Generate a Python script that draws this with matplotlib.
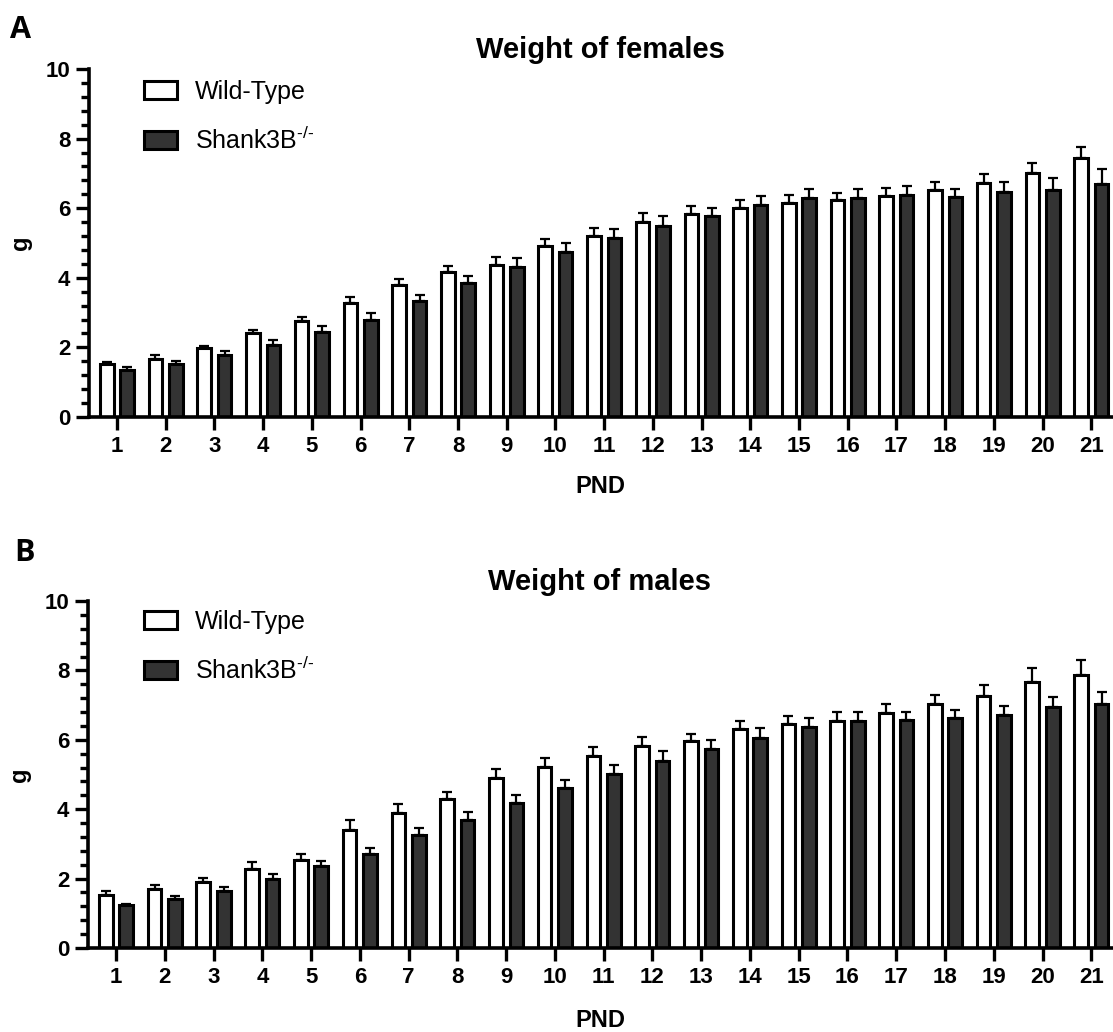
import numpy as np
import matplotlib
matplotlib.use("Agg")
import matplotlib.pyplot as plt
from matplotlib.patches import Patch
from matplotlib.ticker import MultipleLocator

plt.rcParams["font.family"] = ["Liberation Sans", "DejaVu Sans"]
plt.rcParams["mathtext.fontset"] = "custom"
plt.rcParams["mathtext.rm"] = "Liberation Sans"
plt.rcParams["mathtext.default"] = "regular"

PND = list(range(1, 22))

# females (panel A)
FEM_WT = [1.51, 1.68, 1.97, 2.40, 2.75, 3.29, 3.78, 4.17, 4.37, 4.90, 5.21,
          5.59, 5.82, 6.01, 6.15, 6.23, 6.35, 6.51, 6.71, 7.00, 7.43]
FEM_WT_ERR = [0.06, 0.09, 0.08, 0.11, 0.13, 0.16, 0.18, 0.18, 0.24, 0.21, 0.23,
              0.26, 0.24, 0.22, 0.23, 0.22, 0.23, 0.24, 0.27, 0.29, 0.32]
FEM_KO = [1.36, 1.53, 1.79, 2.06, 2.44, 2.80, 3.32, 3.85, 4.30, 4.75, 5.13,
          5.49, 5.77, 6.09, 6.30, 6.29, 6.37, 6.32, 6.46, 6.52, 6.70]
FEM_KO_ERR = [0.07, 0.07, 0.10, 0.14, 0.18, 0.19, 0.19, 0.21, 0.26, 0.26, 0.27,
              0.28, 0.25, 0.26, 0.26, 0.26, 0.27, 0.24, 0.30, 0.36, 0.44]

# males (panel B)
MAL_WT = [1.52, 1.71, 1.90, 2.29, 2.53, 3.41, 3.89, 4.28, 4.90, 5.22, 5.54,
          5.82, 5.97, 6.30, 6.45, 6.54, 6.78, 7.02, 7.25, 7.68, 7.88]
MAL_WT_ERR = [0.11, 0.10, 0.12, 0.19, 0.19, 0.29, 0.25, 0.22, 0.27, 0.26, 0.26,
              0.25, 0.21, 0.23, 0.23, 0.25, 0.26, 0.28, 0.33, 0.40, 0.42]
MAL_KO = [1.23, 1.42, 1.64, 2.00, 2.37, 2.70, 3.25, 3.70, 4.18, 4.60, 5.01,
          5.39, 5.74, 6.04, 6.38, 6.53, 6.57, 6.62, 6.72, 6.95, 7.04]
MAL_KO_ERR = [0.05, 0.07, 0.12, 0.14, 0.14, 0.19, 0.21, 0.22, 0.22, 0.25, 0.26,
              0.28, 0.26, 0.30, 0.25, 0.26, 0.22, 0.23, 0.26, 0.28, 0.34]

LABELS = ["Wild-Type", r"Shank3B$^{\text{-/-}}$"]
DARK = "#333333"


def draw_panel(ax, wt, wt_err, ko, ko_err, title, xlabelpad):
    x = np.array(PND)
    off = 0.21
    w = 0.28
    zeros = np.zeros(len(x))
    ax.bar(x - off, wt, width=w, color="white", edgecolor="black", linewidth=2.2, zorder=2)
    ax.bar(x + off, ko, width=w, color=DARK, edgecolor="black", linewidth=2.2, zorder=2)
    ax.errorbar(x - off, wt, yerr=[zeros, wt_err], fmt="none", ecolor="black",
                elinewidth=1.6, capsize=3.6, capthick=1.6, zorder=1)
    ax.errorbar(x + off, ko, yerr=[zeros, ko_err], fmt="none", ecolor="black",
                elinewidth=1.6, capsize=3.6, capthick=1.6, zorder=1)

    ax.set_xlim(0.425, 21.425)
    ax.set_ylim(0, 10)
    ax.set_xticks(x)
    ax.set_xticklabels([str(v) for v in PND])
    ax.yaxis.set_major_locator(MultipleLocator(2))
    ax.yaxis.set_minor_locator(MultipleLocator(0.4))

    for s in ["top", "right"]:
        ax.spines[s].set_visible(False)
    for s in ["left", "bottom"]:
        ax.spines[s].set_linewidth(2.6)

    ax.tick_params(axis="both", which="major", length=9.5, width=2.4, labelsize=16, pad=4)
    ax.tick_params(axis="y", which="minor", length=5.5, width=2.4)
    for lbl in ax.get_xticklabels() + ax.get_yticklabels():
        lbl.set_fontweight("bold")

    ax.set_xlabel("PND", fontsize=17, fontweight="bold", labelpad=xlabelpad)
    ax.set_ylabel("g", fontsize=17, fontweight="bold", labelpad=10)
    ax.set_title(title, fontsize=21, fontweight="bold", pad=8)


fig = plt.figure(figsize=(11.13, 10.32), dpi=100)
ax1 = fig.add_axes([89 / 1113, (1032 - 417) / 1032, 1023 / 1113, 348 / 1032])
ax2 = fig.add_axes([88 / 1113, (1032 - 948) / 1032, 1024 / 1113, 347 / 1032])

draw_panel(ax1, FEM_WT, FEM_WT_ERR, FEM_KO, FEM_KO_ERR, "Weight of females", 13)
draw_panel(ax2, MAL_WT, MAL_WT_ERR, MAL_KO, MAL_KO_ERR, "Weight of males", 15)

handles = [Patch(facecolor="white", edgecolor="black", linewidth=2.2),
           Patch(facecolor=DARK, edgecolor="black", linewidth=2.2)]
for ax, top in [(ax1, 80), (ax2, 610)]:
    ax.legend(handles, LABELS, loc="upper left", bbox_to_anchor=(144 / 1113, 1 - top / 1032),
              bbox_transform=fig.transFigure, frameon=False, fontsize=18,
              handlelength=1.3, handleheight=0.75, handletextpad=0.75,
              labelspacing=0.9, borderpad=0, borderaxespad=0)

fig.text(10 / 1113, 1 - 30 / 1032, "A", fontsize=22, fontweight="bold",
         family=["Open Sans", "DejaVu Sans"], va="center", ha="left")
fig.text(14 / 1113, 1 - 553 / 1032, "B", fontsize=22, fontweight="bold",
         family=["Open Sans", "DejaVu Sans"], va="center", ha="left")

fig.savefig("out.png", dpi=100)
